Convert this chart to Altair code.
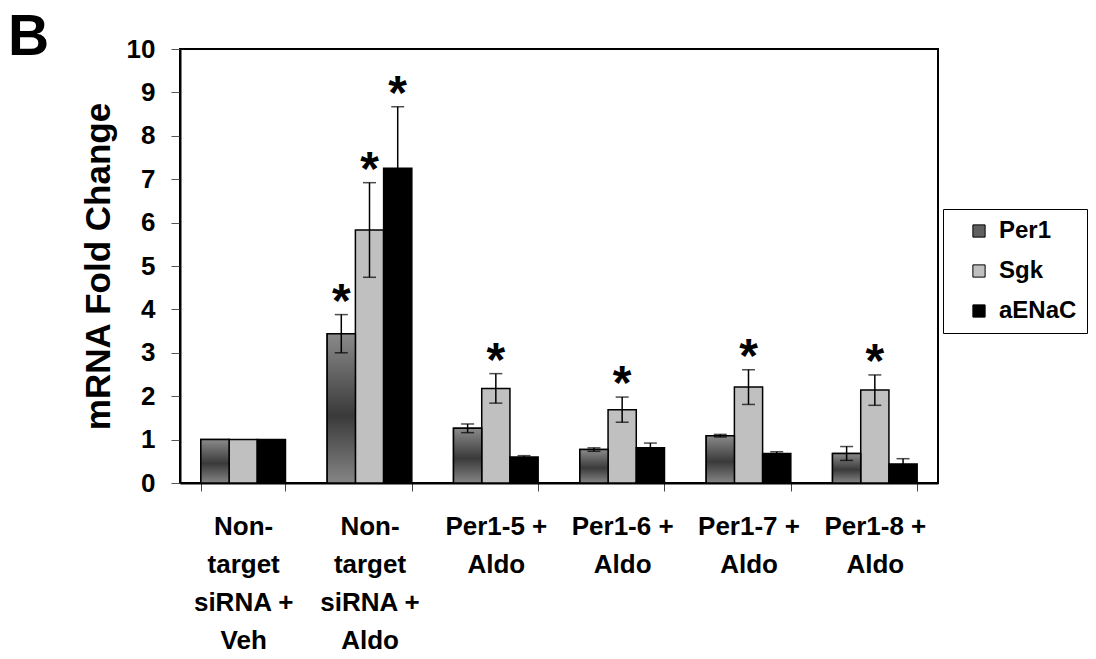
import altair as alt
import pandas as pd

groups = ["Non-\ntarget\nsiRNA +\nVeh", "Non-\ntarget\nsiRNA +\nAldo",
          "Per1-5 +\nAldo", "Per1-6 +\nAldo", "Per1-7 +\nAldo", "Per1-8 +\nAldo"]
series = ["Per1", "Sgk", "aENaC"]
colors = ["#606060", "#c0c0c0", "#000000"]

per1 = [1.0, 3.44, 1.26, 0.77, 1.09, 0.68]
per1_err = [0.0, 0.44, 0.10, 0.04, 0.03, 0.16]
per1_sig = [False, True, False, False, False, False]

sgk = [1.0, 5.83, 2.18, 1.69, 2.21, 2.14]
sgk_err = [0.0, 1.09, 0.34, 0.29, 0.40, 0.35]
sgk_sig = [False, True, True, True, True, True]

aenac = [1.0, 7.25, 0.60, 0.81, 0.68, 0.44]
aenac_err = [0.0, 1.42, 0.03, 0.11, 0.04, 0.12]
aenac_sig = [False, True, False, False, False, False]

rows = []
for name, vals, errs, sigs in [("Per1", per1, per1_err, per1_sig),
                               ("Sgk", sgk, sgk_err, sgk_sig),
                               ("aENaC", aenac, aenac_err, aenac_sig)]:
    for g, v, e, s in zip(groups, vals, errs, sigs):
        rows.append({"group": g, "series": name, "value": v, "err": e,
                     "lo": v - e, "hi": v + e, "star": "*" if s else ""})
df = pd.DataFrame(rows)

FONT = "Liberation Sans"

x_enc = alt.X("group:N", sort=groups,
              scale=alt.Scale(paddingInner=0.33, paddingOuter=0.165),
              axis=alt.Axis(title=None, labelAngle=0, labelAlign="center",
                            labelExpr="split(datum.label, '\\n')",
                            labelLineHeight=38, labelFontSize=26,
                            labelPadding=22, tickBand="extent", tickSize=8,
                            tickColor="#444444", tickWidth=1,
                            domainColor="black", domainWidth=2))
xo_enc = alt.XOffset("series:N", sort=series,
                     scale=alt.Scale(domain=series, paddingInner=0, paddingOuter=0))
y_axis = alt.Axis(title="mRNA Fold Change", values=list(range(11)),
                  labelFontSize=26, labelPadding=16, tickSize=9,
                  tickColor="#555555", tickWidth=1, titleFontSize=35,
                  titlePadding=10, domainColor="black", domainWidth=2)
y_scale = alt.Scale(domain=[0, 10], nice=False)

base = alt.Chart(df)

bars = base.mark_bar(stroke="black", strokeWidth=1.5).encode(
    x=x_enc, xOffset=xo_enc,
    y=alt.Y("value:Q", scale=y_scale, axis=y_axis),
    color=alt.Color("series:N", sort=series,
                    scale=alt.Scale(domain=series, range=colors),
                    legend=alt.Legend(title=None, orient="none",
                                      legendX=763, legendY=160,
                                      symbolType="square", symbolSize=150,
                                      symbolStrokeColor="black",
                                      symbolStrokeWidth=1, symbolOpacity=1,
                                      labelFontSize=24, labelFont=FONT,
                                      labelFontWeight="bold", labelColor="black",
                                      labelOffset=8, rowPadding=16,
                                      padding=10, symbolOffset=14,
                                      strokeColor="black", fillColor="white")),
)

grad = alt.Gradient(gradient="linear",
                    stops=[alt.GradientStop(color="#8a8a8a", offset=0),
                           alt.GradientStop(color="#3a3a3a", offset=0.55),
                           alt.GradientStop(color="#858585", offset=1)],
                    x1=0, x2=0, y1=0, y2=1)
per1_bars = base.transform_filter(alt.datum.series == "Per1").mark_bar(
    fill=grad, stroke="black", strokeWidth=1.5).encode(
    x=x_enc, xOffset=xo_enc, y=alt.Y("value:Q", scale=y_scale))

errs = base.transform_filter(alt.datum.err > 0)
err_line = errs.mark_rule(color="black", strokeWidth=1.5).encode(
    x=x_enc, xOffset=xo_enc, y=alt.Y("lo:Q", scale=y_scale), y2="hi:Q")
cap_hi = errs.mark_tick(color="black", thickness=1.5, size=13).encode(
    x=x_enc, xOffset=xo_enc, y=alt.Y("hi:Q", scale=y_scale))
cap_lo = errs.mark_tick(color="black", thickness=1.5, size=13).encode(
    x=x_enc, xOffset=xo_enc, y=alt.Y("lo:Q", scale=y_scale))

stars = base.transform_filter(alt.datum.star != "").mark_text(
    font=FONT, fontWeight="bold", fontSize=48, baseline="alphabetic",
    align="center", dy=2, color="black").encode(
    x=x_enc, xOffset=xo_enc, y=alt.Y("hi:Q", scale=y_scale), text="star:N")

panel = alt.Chart(pd.DataFrame({"t": ["B"]})).mark_text(
    font=FONT, fontWeight="bold", fontSize=57, align="left",
    baseline="top", color="black").encode(
    x=alt.value(-172), y=alt.value(-39), text="t:N")

chart = alt.layer(bars, per1_bars, err_line, cap_hi, cap_lo, stars, panel).properties(
    width=758, height=434,
    padding={"left": 0, "top": 1, "right": 0, "bottom": 0},
).configure_view(stroke="black", strokeWidth=2).configure_axis(
    labelFont=FONT, labelFontWeight="bold", labelColor="black",
    titleFont=FONT, titleFontWeight="bold", titleColor="black", grid=False)

chart.save("out.html", embed_options={"renderer": "svg", "actions": False})
